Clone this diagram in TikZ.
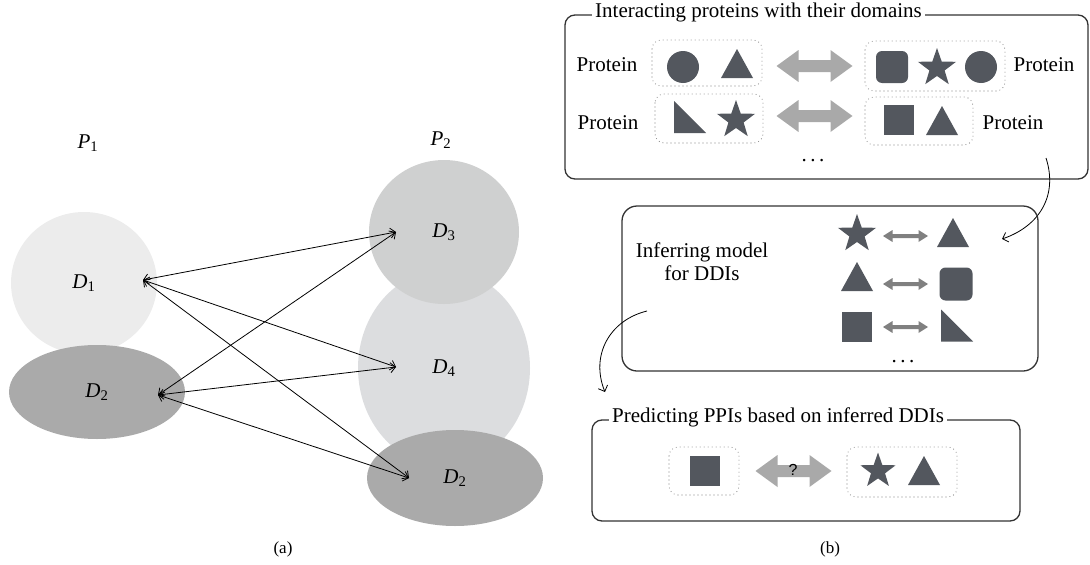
\documentclass[tikz,border=0pt]{standalone}
\usepackage{fontspec}
\setmainfont{Liberation Serif}
\setsansfont{Liberation Sans}
\usetikzlibrary{positioning,shapes.geometric,arrows.meta}
\definecolor{domdark}{HTML}{53575E}
\definecolor{paleD}{HTML}{ECECEC}
\definecolor{midD}{HTML}{AAAAAA}
\definecolor{greyD}{HTML}{CFD0D0}
\definecolor{lightD}{HTML}{DCDDDF}
\definecolor{bigarr}{HTML}{A9A9A9}
\definecolor{smallarr}{HTML}{808080}
\definecolor{boxline}{HTML}{333333}

\tikzset{
  dom/.style={ellipse,inner sep=0pt,font=\fontsize{21}{24}\selectfont},
  link/.style={<->,>={Straight Barb[length=5pt,width=10pt]},line width=0.8pt},
  curvelink/.style={->,>={Straight Barb[length=5pt,width=10pt]},line width=0.8pt},
  panel/.style={draw=boxline,line width=1.3pt},
  boxtitle/.style={fill=white,inner xsep=3pt,inner ysep=1pt,anchor=base west,font=\fontsize{21}{24}\selectfont},
  txt/.style={font=\fontsize{21}{23}\selectfont,inner sep=0pt},
  dotbox/.style={draw=gray,line width=1.1pt,line cap=round,dash pattern=on 0pt off 4pt,rounded corners=9pt},
  shp/.style={fill=domdark,inner sep=0pt,draw=none},
  starshp/.style={shp,star,star points=5,star point ratio=2.5,minimum size=40pt},
  circshp/.style={shp,circle,minimum size=32pt},
  sqshp/.style={shp,rectangle,minimum size=30pt},
  rsqshp/.style={shp,rectangle,rounded corners=6pt,minimum size=32pt},
}

\newcommand\domtri[2]{\fill[domdark] (#1-16,#2+14) -- (#1+16,#2+14) -- (#1,#2-15) -- cycle;}
\newcommand\domrtri[2]{\fill[domdark] (#1-16,#2-16) -- (#1-16,#2+16) -- (#1+16,#2+16) -- cycle;}
\newcommand\bigarrow[2]{\fill[bigarr] (#1-38,#2) -- (#1-16,#2-16) -- (#1-16,#2-6) -- (#1+16,#2-6)
  -- (#1+16,#2-16) -- (#1+38,#2) -- (#1+16,#2+16) -- (#1+16,#2+6) -- (#1-16,#2+6) -- (#1-16,#2+16) -- cycle;}
\newcommand\smallarrow[2]{\fill[smallarr] (#1-22.5,#2) -- (#1-13,#2-6) -- (#1-13,#2-2) -- (#1+13,#2-2)
  -- (#1+13,#2-6) -- (#1+22.5,#2) -- (#1+13,#2+6) -- (#1+13,#2+2) -- (#1-13,#2+2) -- (#1-13,#2+6) -- cycle;}

\begin{document}
\begin{tikzpicture}[x=1pt,y=-1pt]
  \useasboundingbox (0,0) rectangle (1090,565);

  % (a) domains of the two proteins
  \node[txt] (P1) at (88,143) {\textit{P}\textsubscript{1}};
  \node[txt] (P2) at (441,140) {\textit{P}\textsubscript{2}};

  \node[dom,fill=paleD,minimum width=146pt,minimum height=142pt] (D1) at (84,283) {\textit{D}\textsubscript{1}};
  \node[dom,fill=midD,minimum width=176pt,minimum height=94pt] (D2) at (97,392) {\textit{D}\textsubscript{2}};
  \node[dom,fill=lightD,minimum width=172pt,minimum height=196pt] (D4) at (444,368) {\textit{D}\textsubscript{4}};
  \node[dom,fill=greyD,minimum width=150pt,minimum height=144pt] (D3) at (444,232) {\textit{D}\textsubscript{3}};
  \node[dom,fill=midD,minimum width=176pt,minimum height=96pt] (D5) at (455,478) {\textit{D}\textsubscript{2}};

  \coordinate (e1) at (143,280);
  \coordinate (e2) at (158,395);
  \coordinate (f3) at (396,232);
  \coordinate (f4) at (396,367);
  \coordinate (f2) at (409,478);

  \draw[link] (e1) -- (f3);
  \draw[link] (e1) -- (f4);
  \draw[link] (e1) -- (f2);
  \draw[link] (e2) -- (f3);
  \draw[link] (e2) -- (f4);
  \draw[link] (e2) -- (f2);

  \node[txt,font=\fontsize{17}{19}\selectfont] (capa) at (283,549) {(a)};

  % (b) box 1
  \draw[panel,rounded corners=10pt] (565,15) rectangle (1088,179);
  \node[boxtitle] (t1) at (592,17.5) {Interacting proteins with their domains};

  \node[txt] (pr1) at (607,65) {Protein};
  \draw[dotbox] (652,40) rectangle (762,86);
  \node[circshp] (c1) at (683,67) {};
  \domtri{737}{64}
  \bigarrow{814.5}{66}
  \draw[dotbox] (865,41) rectangle (1005,91);
  \node[rsqshp] (q1) at (892,67) {};
  \node[starshp] (s1) at (937,68) {};
  \node[circshp] (c2) at (981,67) {};
  \node[txt] (pr2) at (1044,65) {Protein};

  \node[txt] (pr3) at (608,123) {Protein};
  \draw[dotbox] (655,94) rectangle (763,143);
  \domrtri{690}{117}
  \node[starshp] (s2) at (736,120) {};
  \bigarrow{814.5}{116}
  \draw[dotbox] (865,97) rectangle (973,145);
  \node[sqshp] (q2) at (899,120) {};
  \domtri{942}{121}
  \node[txt] (pr4) at (1013,123) {Protein};
  \node[txt] (dots1) at (813,161) {.\,.\,.};

  \coordinate (k1) at (1046,158);
  \coordinate (k2) at (1002,239);
  \draw[curvelink] (k1) .. controls (1058,195) and (1040,226) .. (k2);

  % box 2
  \draw[panel,rounded corners=15pt] (622,206) rectangle (1038,371);
  \node[txt,align=center] (infer) at (702,262) {Inferring model\\for DDIs};

  \node[starshp] (s3) at (857,234) {};
  \smallarrow{905.5}{236}
  \domtri{953}{233}
  \domtri{857}{277}
  \smallarrow{905.5}{284}
  \node[rsqshp,minimum size=33pt] (q3) at (956,284) {};
  \node[sqshp] (q4) at (857,327) {};
  \smallarrow{905.5}{327}
  \domrtri{957}{325.5}
  \node[txt] (dots2) at (903,362) {.\,.\,.};

  \coordinate (k3) at (647,311);
  \coordinate (k4) at (605,392);
  \draw[curvelink] (k3) .. controls (610,320) and (590,355) .. (k4);

  % box 3
  \draw[panel,rounded corners=10pt] (592,420) rectangle (1020,521);
  \node[boxtitle] (t3) at (609,422) {Predicting PPIs based on inferred DDIs};

  \draw[dotbox] (669,447) rectangle (739,495);
  \node[sqshp] (q5) at (705,471) {};
  \bigarrow{793.5}{471}
  \node[font=\sffamily\fontsize{16}{18}\selectfont,inner sep=0pt] (qm) at (793,470) {?};
  \draw[dotbox] (847,447) rectangle (957,497);
  \node[starshp,minimum size=37pt] (s4) at (878,471) {};
  \domtri{924}{471}

  \node[txt,font=\fontsize{17}{19}\selectfont] (capb) at (830,549) {(b)};
\end{tikzpicture}
\end{document}
